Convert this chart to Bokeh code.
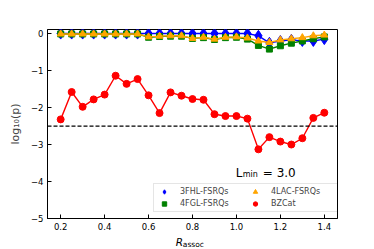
from bokeh.plotting import figure
from bokeh.layouts import column
from bokeh.models import Range1d, FixedTicker, Legend, LegendItem, Label, Span
from bokeh.core.properties import value
from bokeh.embed import file_html
from bokeh.resources import INLINE

r_assoc = [0.2, 0.25, 0.3, 0.35, 0.4, 0.45, 0.5, 0.55, 0.6, 0.65, 0.7, 0.75, 0.8,
           0.85, 0.9, 0.95, 1.0, 1.05, 1.1, 1.15, 1.2, 1.25, 1.3, 1.35, 1.4]
fhl3 = [0.0, 0.0, 0.0, 0.0, 0.0, 0.0, 0.0, 0.0, 0.0, 0.0, 0.0, 0.0, 0.0,
        0.0, 0.0, 0.0, 0.0, 0.0, -0.06, -0.25, -0.2, -0.17, -0.2, -0.2, -0.15]
fgl4 = [-0.01, -0.01, -0.01, -0.01, -0.01, -0.01, -0.01, -0.01, -0.1, -0.08, -0.07, -0.07, -0.13,
        -0.11, -0.16, -0.11, -0.1, -0.15, -0.32, -0.42, -0.33, -0.26, -0.2, -0.14, -0.09]
lac4 = [-0.01, -0.01, -0.01, -0.01, -0.01, -0.01, -0.01, -0.01, -0.09, -0.07, -0.06, -0.06, -0.13,
        -0.1, -0.15, -0.1, -0.09, -0.12, -0.2, -0.24, -0.17, -0.14, -0.11, -0.06, -0.04]
bzcat = [-2.32, -1.58, -1.98, -1.78, -1.65, -1.14, -1.36, -1.23, -1.67, -2.15, -1.59, -1.68, -1.77,
         -1.79, -2.18, -2.23, -2.23, -2.3, -3.13, -2.8, -2.92, -3.0, -2.83, -2.28, -2.14]
threshold = -2.5
x_ticks = [0.2, 0.4, 0.6, 0.8, 1.0, 1.2, 1.4]
y_ticks = [-5, -4, -3, -2, -1, 0]

FONT = "DejaVu Sans"

x_range = Range1d(0.14, 1.46)
p = figure(width=374, height=234, output_backend="svg", toolbar_location=None,
           x_range=x_range, y_range=Range1d(-5, 0.11),
           min_border_left=47, min_border_right=37, min_border_top=29, min_border_bottom=16)
p.background_fill_color = "white"
p.border_fill_color = "white"
p.outline_line_color = "black"
p.outline_line_width = 1
p.xgrid.visible = False
p.ygrid.visible = False

for ax in (p.xaxis[0], p.yaxis[0]):
    ax.major_tick_in = 4
    ax.major_tick_out = 0
    ax.minor_tick_in = 0
    ax.minor_tick_out = 0
    ax.major_label_text_font = FONT
    ax.major_label_text_font_size = "8.5px"
    ax.major_label_text_color = "black"
    ax.axis_line_color = "black"
    ax.major_tick_line_color = "black"
    ax.major_label_standoff = 4

p.xaxis.ticker = FixedTicker(ticks=x_ticks)
p.xaxis.major_label_overrides = {t: f"{t:.1f}" for t in x_ticks}
p.yaxis.ticker = FixedTicker(ticks=y_ticks)
p.yaxis.major_label_overrides = {t: (str(t).replace("-", "\u2212")) for t in y_ticks}

p.yaxis.axis_label = "log\u2081\u2080(p)"
p.yaxis.axis_label_text_font = FONT
p.yaxis.axis_label_text_font_size = "11px"
p.yaxis.axis_label_text_font_style = "normal"
p.yaxis.axis_label_standoff = 6

thr = Span(location=threshold, dimension="width", line_color="black",
           line_dash="4 2", line_width=1.2)
p.add_layout(thr)

l1 = p.line(r_assoc, fhl3, color="blue", line_width=1.4)
s1 = p.scatter(r_assoc, fhl3, marker="diamond", size=11, color="blue")
l2 = p.line(r_assoc, fgl4, color="green", line_width=1.4)
s2 = p.scatter(r_assoc, fgl4, marker="square", size=6, color="green")
l3 = p.line(r_assoc, lac4, color="orange", line_width=1.4)
s3 = p.scatter(r_assoc, lac4, marker="triangle", size=7, color="orange")
l4 = p.line(r_assoc, bzcat, color="red", line_width=1.4)
s4 = p.scatter(r_assoc, bzcat, marker="circle", size=7, color="red")

legend = Legend(items=[LegendItem(label="3FHL-FSRQs", renderers=[s1]),
                       LegendItem(label="4FGL-FSRQs", renderers=[s2]),
                       LegendItem(label="4LAC-FSRQs", renderers=[s3]),
                       LegendItem(label="BZCat", renderers=[s4])],
                location=(106, 6), ncols=2,
                label_text_font=FONT, label_text_font_size="8px",
                glyph_width=16, glyph_height=11, label_standoff=8, label_width=66,
                label_height=11, padding=2, spacing=1, margin=0,
                border_line_color="#cccccc", border_line_width=1,
                background_fill_color="white", background_fill_alpha=0.8)
p.add_layout(legend, "center")

# L_min annotation
p.add_layout(Label(x=0.997, y=-3.76, text="L", text_font=FONT, text_font_size="12px",
                   text_baseline="alphabetic", text_color="black"))
p.add_layout(Label(x=0.997, y=-3.76, x_offset=7, y_offset=-2, text="min", text_font=FONT,
                   text_font_size="8px", text_baseline="alphabetic", text_color="black"))
p.add_layout(Label(x=0.997, y=-3.76, x_offset=27, text="= 3.0", text_font=FONT,
                   text_font_size="12px", text_baseline="alphabetic", text_color="black"))

# strip below the plot carrying the x-axis label R_assoc
q = figure(width=374, height=15, output_backend="svg", toolbar_location=None,
           x_range=x_range, y_range=Range1d(0, 1),
           x_axis_location=None, y_axis_location=None,
           min_border_left=47, min_border_right=37, min_border_top=0, min_border_bottom=0)
q.outline_line_color = None
q.background_fill_color = "white"
q.border_fill_color = "white"
q.xgrid.visible = False
q.ygrid.visible = False
q.text(x=[0.724], y=[0.52], text=["R"], text_font=value(FONT), text_font_size="10.5px",
       text_font_style="italic", text_baseline="alphabetic", text_color="black")
q.text(x=[0.724], y=[0.36], text=["assoc"], x_offset=7, text_font=value(FONT),
       text_font_size="7.5px", text_baseline="alphabetic", text_color="black")

layout = column(p, q, spacing=0)
open("out.html", "w").write(file_html(layout, INLINE))
